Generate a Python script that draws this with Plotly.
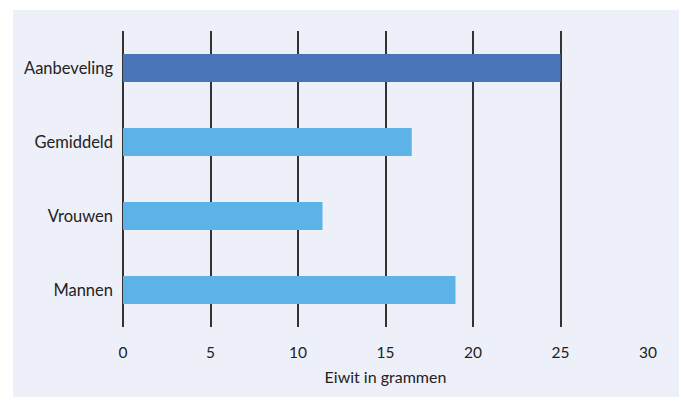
import plotly.graph_objects as go

categories = ["Aanbeveling", "Gemiddeld", "Vrouwen", "Mannen"]
values = [25, 16.5, 11.4, 19.0]
bar_colors = ["#4a75b9", "#5db3e7", "#5db3e7", "#5db3e7"]
x_ticks = [0, 5, 10, 15, 20, 25, 30]
x_title = "Eiwit in grammen"

W, H = 681, 401
L, R, T, B = 123, 33, 31, 74
pw, ph = W - L - R, H - T - B

fig = go.Figure(go.Bar(
    x=values, y=categories, orientation="h",
    marker=dict(color=bar_colors, line=dict(width=0)),
    width=0.38, hoverinfo="x+y",
))

bg = "#eef0f9"
fig.add_shape(type="rect", xref="paper", yref="paper", layer="below",
              x0=(13 - L) / pw, x1=(679 - L) / pw,
              y0=(T + ph - 397) / ph, y1=(T + ph - 10) / ph,
              fillcolor=bg, line=dict(width=0))

fig.update_layout(
    width=W, height=H,
    margin=dict(l=L, r=R, t=T, b=B, pad=0),
    paper_bgcolor="white", plot_bgcolor=bg,
    font=dict(family="Lato, sans-serif", size=15.5, color="#222"),
    showlegend=False,
    bargap=0.62,
)
fig.update_xaxes(
    range=[0, 30], tickvals=x_ticks, ticktext=[str(v) for v in x_ticks],
    showgrid=True, gridcolor="#333", gridwidth=1.6,
    zeroline=True, zerolinecolor="#333", zerolinewidth=1.6,
    showline=False, ticks="", ticklabelstandoff=14,
    tickfont=dict(size=15.5),
    title=dict(text=x_title, standoff=12, font=dict(size=16)),
    fixedrange=True,
)
fig.update_yaxes(
    categoryorder="array", categoryarray=categories[::-1],
    range=[-0.5, 3.5], showgrid=False, zeroline=False, showline=False,
    ticks="", ticklabelstandoff=9, tickfont=dict(size=16.5), fixedrange=True,
)

fig.write_html("out.html")
